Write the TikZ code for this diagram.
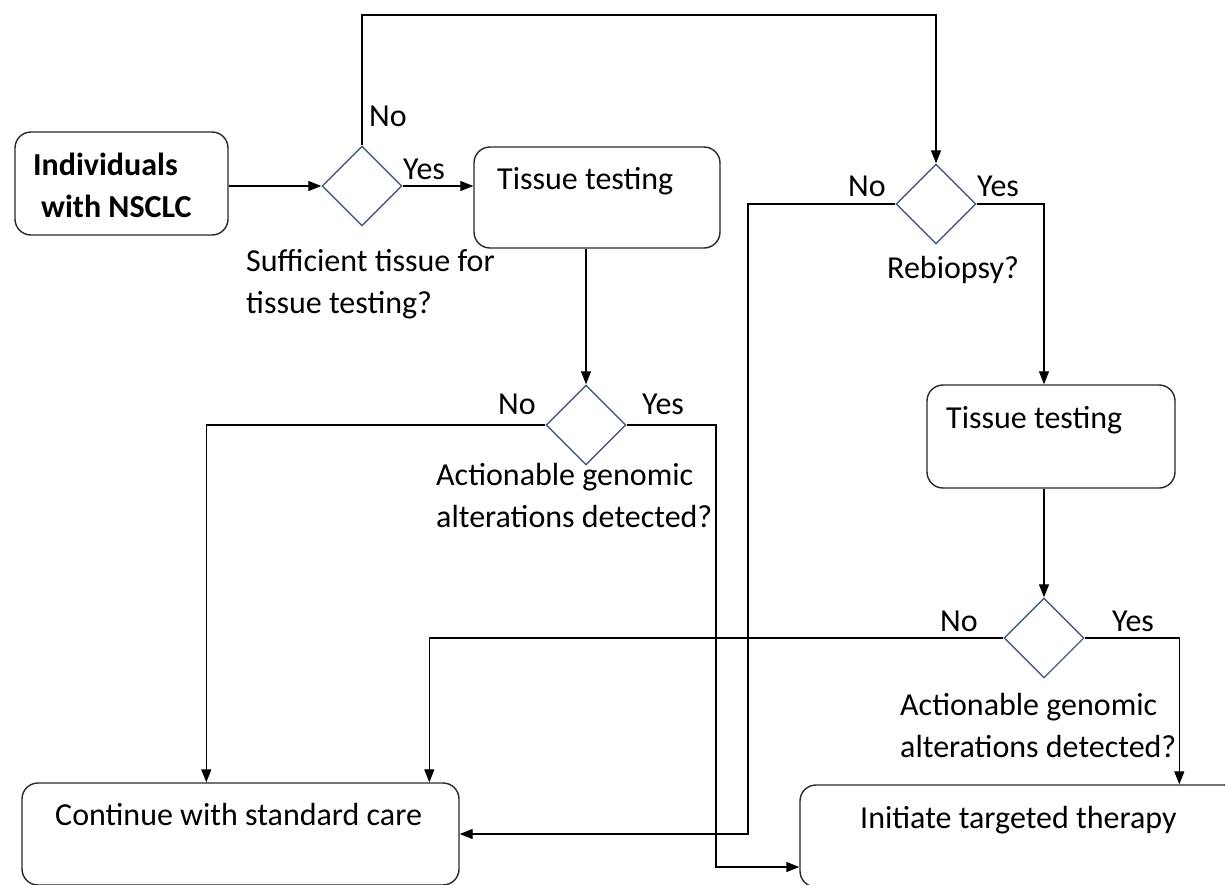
\documentclass[tikz,border=0pt]{standalone}
\usepackage{fontspec}
\setmainfont{Carlito}
\usetikzlibrary{shapes.geometric,arrows.meta}
\definecolor{decisionblue}{RGB}{72,92,130}
\definecolor{boxline}{RGB}{40,40,40}
\begin{document}
\begin{tikzpicture}[x=1pt,y=-1pt,
  font=\fontsize{32}{42}\selectfont,
  box/.style={draw=boxline,line width=1.4pt,rounded corners=16pt,inner sep=0pt},
  decision/.style={draw=decisionblue,line width=1.4pt,diamond,aspect=1,
    minimum width=80pt,minimum height=80pt,inner sep=0pt},
  txt/.style={inner sep=0pt,anchor=base west,align=left},
  link/.style={draw=black,line width=1.2pt},
  arr/.style={link,-{Triangle[length=13pt,width=10pt]}},
]
\useasboundingbox (0,0) rectangle (1225,884);
\fill[white] (0,0) rectangle (1225,884);
\clip (0,0) rectangle (1225,884);

% process boxes
\node[box,minimum width=213pt,minimum height=103pt] (start) at (121.5,183.5) {};
\node[box,minimum width=246pt,minimum height=101pt] (tt1) at (597,197.5) {};
\node[box,minimum width=248pt,minimum height=103pt] (tt2) at (1051,436.5) {};
\node[box,minimum width=437pt,minimum height=102pt] (care) at (240.5,834) {};
\node[box,minimum width=440pt,minimum height=102pt] (therapy) at (1020,836) {};

% decisions
\node[decision] (q1) at (362,186) {};
\node[decision] (q2) at (586,425) {};
\node[decision] (q3) at (936,204) {};
\node[decision] (q4) at (1044,638) {};

% box texts (two-line nodes are placed by the baseline of their last line)
\node[txt,font=\fontsize{32}{42}\selectfont\bfseries] (starttxt) at (33,217)
  {Individuals\\\hspace*{8pt}with NSCLC};
\node[txt] (tt1txt) at (497,189) {Tissue testing};
\node[txt] (tt2txt) at (946,428) {Tissue testing};
\node[txt] (caretxt) at (55,825) {Continue with standard care};
\node[txt] (therapytxt) at (860,828) {Initiate targeted therapy};

% decision questions
\node[txt] (q1txt) at (246,313) {Sufficient tissue for\\tissue testing?};
\node[txt] (q2txt) at (436,527) {Actionable genomic\\alterations detected?};
\node[txt] (q3txt) at (887,278) {Rebiopsy?};
\node[txt] (q4txt) at (900,757) {Actionable genomic\\alterations detected?};

% branch labels
\node[txt] (q1no) at (369,126) {No};
\node[txt] (q1yes) at (403,179) {Yes};
\node[txt] (q2no) at (498,414) {No};
\node[txt] (q2yes) at (642,414) {Yes};
\node[txt] (q3no) at (848,196) {No};
\node[txt] (q3yes) at (977,196) {Yes};
\node[txt] (q4no) at (940,631) {No};
\node[txt] (q4yes) at (1112,631) {Yes};

% bends of the routed connectors
\coordinate (topturn) at (362,15);
\coordinate (q2yesturn) at (716,867);
\coordinate (q3noturn) at (748,834);

% connectors
\draw[arr] (start.east |- q1.west) -- (q1.west);
\draw[arr] (q1.east) -- (q1.east -| tt1.west);
\draw[arr] (q1.north) -- (topturn) -| (q3.north);
\draw[arr] (tt1.south -| q2.north) -- (q2.north);
\draw[arr] (q2.west) -| ([xshift=185pt]care.north west);
\draw[arr] (q2.east) -| (q2yesturn) -- (q2yesturn -| therapy.west);
\draw[arr] (q3.west) -| (q3noturn) -- (q3noturn -| care.east);
\draw[arr] (q3.east) -| (q4.north |- tt2.north);
\draw[arr] (tt2.south -| q4.north) -- (q4.north);
\draw[arr] (q4.west) -| ([xshift=408pt]care.north west);
\draw[arr] (q4.east) -| ([xshift=380pt]therapy.north west);
\end{tikzpicture}
\end{document}
